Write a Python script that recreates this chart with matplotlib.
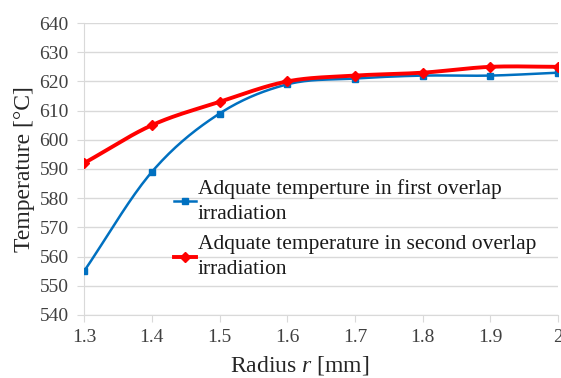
import numpy as np
import matplotlib
matplotlib.use("Agg")
import matplotlib.pyplot as plt

radius = [1.3, 1.4, 1.5, 1.6, 1.7, 1.8, 1.9, 2.0]
temp_first = [555, 589, 609, 619, 621, 622, 622, 623]
temp_second = [592, 605, 613, 620, 622, 623, 625, 625]
label_first = "Adquate temperture in first overlap\nirradiation"
label_second = "Adquate temperature in second overlap\nirradiation"
xticks = [1.3, 1.4, 1.5, 1.6, 1.7, 1.8, 1.9, 2.0]
xticklabels = ["1.3", "1.4", "1.5", "1.6", "1.7", "1.8", "1.9", "2"]

plt.rcParams["font.family"] = "serif"
plt.rcParams["font.serif"] = ["Liberation Serif", "DejaVu Serif"]
plt.rcParams["mathtext.fontset"] = "custom"
plt.rcParams["mathtext.it"] = "Liberation Serif:italic"
plt.rcParams["mathtext.rm"] = "Liberation Serif"


def smooth(x, y, n=20):
    # catmull-rom style smoothing, like excel's smoothed line
    x = np.asarray(x, float)
    y = np.asarray(y, float)
    px = np.concatenate([[2 * x[0] - x[1]], x, [2 * x[-1] - x[-2]]])
    py = np.concatenate([[2 * y[0] - y[1]], y, [2 * y[-1] - y[-2]]])
    xs, ys = [], []
    t = np.linspace(0, 1, n, endpoint=False)
    for i in range(1, len(px) - 2):
        for p, out in ((px, xs), (py, ys)):
            p0, p1, p2, p3 = p[i - 1], p[i], p[i + 1], p[i + 2]
            out.append(0.5 * ((2 * p1) + (-p0 + p2) * t
                              + (2 * p0 - 5 * p1 + 4 * p2 - p3) * t ** 2
                              + (-p0 + 3 * p1 - 3 * p2 + p3) * t ** 3))
    xs.append([x[-1]])
    ys.append([y[-1]])
    return np.concatenate(xs), np.concatenate(ys)


fig = plt.figure(figsize=(5.61, 3.78), dpi=100)
ax = fig.add_axes([0.150, 0.167, 0.845, 0.772])

blue = "#0070C0"
red = "#FF0000"

sx, sy = smooth(radius, temp_first)
ax.plot(sx, sy, color=blue, lw=1.8, zorder=3)
ax.plot(radius, temp_first, ls="none", marker="s", ms=5, color=blue, zorder=4)
sx, sy = smooth(radius, temp_second)
ax.plot(sx, sy, color=red, lw=2.8, zorder=5)
ax.plot(radius, temp_second, ls="none", marker="D", ms=5.5, color=red, zorder=6)

# legend proxies
h1, = ax.plot([], [], color=blue, lw=1.8, marker="s", ms=5)
h2, = ax.plot([], [], color=red, lw=2.8, marker="D", ms=5.5)
leg = ax.legend([h1, h2], [label_first, label_second], loc="upper left",
                bbox_to_anchor=(0.19, 0.465), frameon=False, fontsize=15.5,
                handlelength=1.0, handletextpad=0.1, labelspacing=0.5,
                borderaxespad=0, borderpad=0, labelcolor="#1a1a1a")
for t in leg.get_texts():
    t.set_linespacing(1.45)

ax.set_xlim(1.3, 2.0)
ax.set_ylim(540, 640)
ax.set_yticks(range(540, 641, 10))
ax.set_xticks(xticks)
ax.set_xticklabels(xticklabels)
ax.yaxis.grid(True, color="#d9d9d9", lw=1)
ax.set_axisbelow(True)
for s in ("top", "right"):
    ax.spines[s].set_visible(False)
for s in ("left", "bottom"):
    ax.spines[s].set_color("#d9d9d9")
ax.tick_params(axis="both", colors="#d9d9d9", labelcolor="#404040",
               labelsize=14, length=5)
ax.tick_params(axis="x", pad=5)
ax.tick_params(axis="y", pad=6)

ax.set_xlabel("Radius $r$ [mm]", fontsize=17, color="#262626", labelpad=3)
ax.xaxis.set_label_coords(0.454, -0.135)
ax.set_ylabel("Temperature [°C]", fontsize=17, color="#262626", labelpad=3)

fig.savefig("out.png", dpi=100)
